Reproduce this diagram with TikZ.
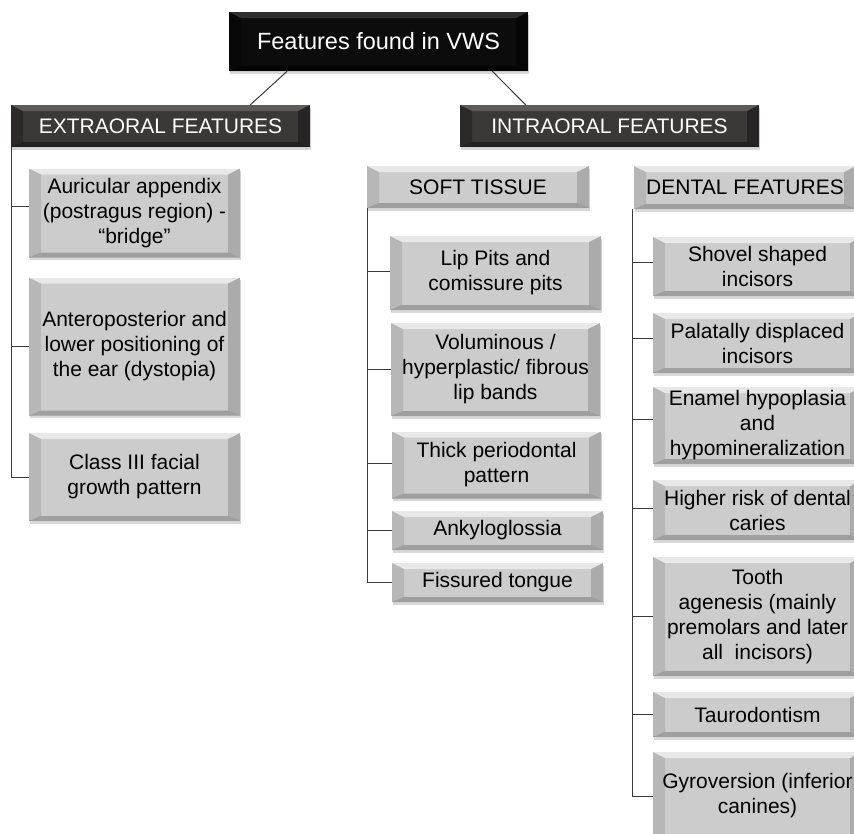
\documentclass[tikz,border=0pt]{standalone}
\usepackage{fontspec}
\setmainfont{Liberation Sans}
\usetikzlibrary{calc,shadows}
\definecolor{lightbox}{HTML}{CDCCCC}
\definecolor{darkbox}{HTML}{3B3838}
\definecolor{blackbox}{HTML}{0C0C0C}
\definecolor{linecol}{HTML}{3A3A3A}
\tikzset{
  bevel/.style n args={4}{path picture={
    \path (path picture bounding box.north west) coordinate (pNW)
          (path picture bounding box.south east) coordinate (pSE)
          (path picture bounding box.north east) coordinate (pNE)
          (path picture bounding box.south west) coordinate (pSW);
    \fill[white,opacity=#1] (pNW) -- (pNE) -- ($(pNE)+(-12pt,-6pt)$) -- ($(pNW)+(12pt,-6pt)$) -- cycle;
    \fill[black,opacity=#2] (pNW) -- ($(pNW)+(12pt,-6pt)$) -- ($(pSW)+(12pt,5pt)$) -- (pSW) -- cycle;
    \fill[black,opacity=#3] (pNE) -- ($(pNE)+(-12pt,-6pt)$) -- ($(pSE)+(-12pt,5pt)$) -- (pSE) -- cycle;
    \fill[black,opacity=#4] (pSW) -- ($(pSW)+(12pt,5pt)$) -- ($(pSE)+(-12pt,5pt)$) -- (pSE) -- cycle;
  }},
  basebox/.style={inner sep=0pt, align=center,
    font=\fontsize{21}{25}\selectfont,
    drop shadow={shadow xshift=1pt, shadow yshift=-2.5pt, opacity=0.3, fill=gray}},
  lbox/.style={basebox, fill=lightbox, text=black, bevel={0.55}{0.10}{0.16}{0.22}},
  dbox/.style={basebox, fill=darkbox, text=white, bevel={0.18}{0.25}{0.35}{0.4}},
  tbox/.style={basebox, fill=blackbox, text=white, bevel={0.15}{0.3}{0.4}{0.5},
    font=\fontsize{23.5}{28}\selectfont},
  conn/.style={draw=linecol, line width=1pt},
}
\begin{document}
\begin{tikzpicture}[x=1pt,y=-1pt]
\useasboundingbox (0,0) rectangle (854,833);
\clip (0,0) rectangle (854,833);
\fill[white] (0,0) rectangle (854,833);

% top level
\node[tbox, minimum width=299pt, minimum height=59pt] (top) at (378.5,41.5) {Features found in VWS};
\node[dbox, minimum width=299pt, minimum height=42pt] (extra) at (160.5,126) {EXTRAORAL FEATURES};
\node[dbox, minimum width=299pt, minimum height=42pt] (intra) at (609.5,126) {INTRAORAL FEATURES};

% extraoral children
\node[lbox, minimum width=211pt, minimum height=89pt] (aur) at (134.5,213) {Auricular appendix\\(postragus region) -\\“bridge”};
\node[lbox, minimum width=211pt, minimum height=138pt] (ante) at (134.5,346.5) {Anteroposterior and\\lower positioning of\\the ear (dystopia)};
\node[lbox, minimum width=211pt, minimum height=88pt] (cls) at (134.5,477) {Class III facial\\growth pattern};

% soft tissue
\node[lbox, minimum width=222pt, minimum height=42pt] (soft) at (478,187) {SOFT TISSUE};
\node[lbox, minimum width=211pt, minimum height=74pt] (lip) at (495.5,273) {Lip Pits and\\comissure pits};
\node[lbox, minimum width=209pt, minimum height=93pt] (vol) at (495.5,369.5) {Voluminous /\\hyperplastic/ fibrous\\lip bands};
\node[lbox, minimum width=209pt, minimum height=67pt] (thick) at (496.5,465) {Thick periodontal\\pattern};
\node[lbox, minimum width=211pt, minimum height=39pt] (anky) at (497.5,530.5) {Ankyloglossia};
\node[lbox, minimum width=211pt, minimum height=39pt] (fiss) at (497.5,582.5) {Fissured tongue};

% dental features
\node[lbox, minimum width=222pt, minimum height=43pt] (dent) at (745,187.5) {DENTAL FEATURES};
\node[lbox, minimum width=209pt, minimum height=59pt] (shov) at (757.5,266.5) {Shovel shaped\\incisors};
\node[lbox, minimum width=209pt, minimum height=60pt] (pal) at (757.5,343) {Palatally displaced\\incisors};
\node[lbox, minimum width=209pt, minimum height=77pt] (ena) at (757.5,425.5) {Enamel hypoplasia\\and\\hypomineralization};
\node[lbox, minimum width=209pt, minimum height=60pt] (high) at (757.5,510) {Higher risk of dental\\caries};
\node[lbox, minimum width=209pt, minimum height=119pt] (tooth) at (757.5,616.5) {Tooth\\agenesis (mainly\\premolars and later\\all~ incisors)};
\node[lbox, minimum width=209pt, minimum height=45pt] (taur) at (757.5,714.5) {Taurodontism};
\node[lbox, minimum width=209pt, minimum height=88pt] (gyro) at (757.5,796) {Gyroversion (inferior\\canines)};

% connectors top level
\draw[conn] ($(top.south west)!0.195!(top.south east)$) -- ($(extra.north west)!0.80!(extra.north east)$);
\draw[conn] ($(top.south west)!0.88!(top.south east)$) -- ($(intra.north west)!0.22!(intra.north east)$);

% anchor points for side connectors
\coordinate (aurc) at ([yshift=7pt]aur.west);
\coordinate (lipc) at ([yshift=2pt]lip.west);
\coordinate (thickc) at ([yshift=2pt]thick.west);
\coordinate (shovc) at ([yshift=4pt]shov.west);
\coordinate (palc) at ([yshift=5pt]pal.west);
\coordinate (enac) at ([yshift=6pt]ena.west);
\coordinate (highc) at ([yshift=2pt]high.west);

% extraoral tree
\coordinate (ev) at ($(extra.south west)+(1pt,0pt)$);
\draw[conn] (ev) -- (ev |- cls.west) -- (cls.west);
\draw[conn] (ev |- aurc) -- (aurc);
\draw[conn] (ev |- ante.west) -- (ante.west);

% soft tissue tree
\coordinate (sv) at ($(soft.south west)+(1pt,0pt)$);
\draw[conn] (sv) -- (sv |- fiss.west) -- (fiss.west);
\draw[conn] (sv |- lipc) -- (lipc);
\draw[conn] (sv |- vol.west) -- (vol.west);
\draw[conn] (sv |- thickc) -- (thickc);
\draw[conn] (sv |- anky.west) -- (anky.west);

% dental tree
\coordinate (dv) at ($(dent.south west)+(-1pt,0pt)$);
\draw[conn] (dv) -- (dv |- gyro.west) -- (gyro.west);
\draw[conn] (dv |- shovc) -- (shovc);
\draw[conn] (dv |- palc) -- (palc);
\draw[conn] (dv |- enac) -- (enac);
\draw[conn] (dv |- highc) -- (highc);
\draw[conn] (dv |- tooth.west) -- (tooth.west);
\draw[conn] (dv |- taur.west) -- (taur.west);
\end{tikzpicture}
\end{document}
